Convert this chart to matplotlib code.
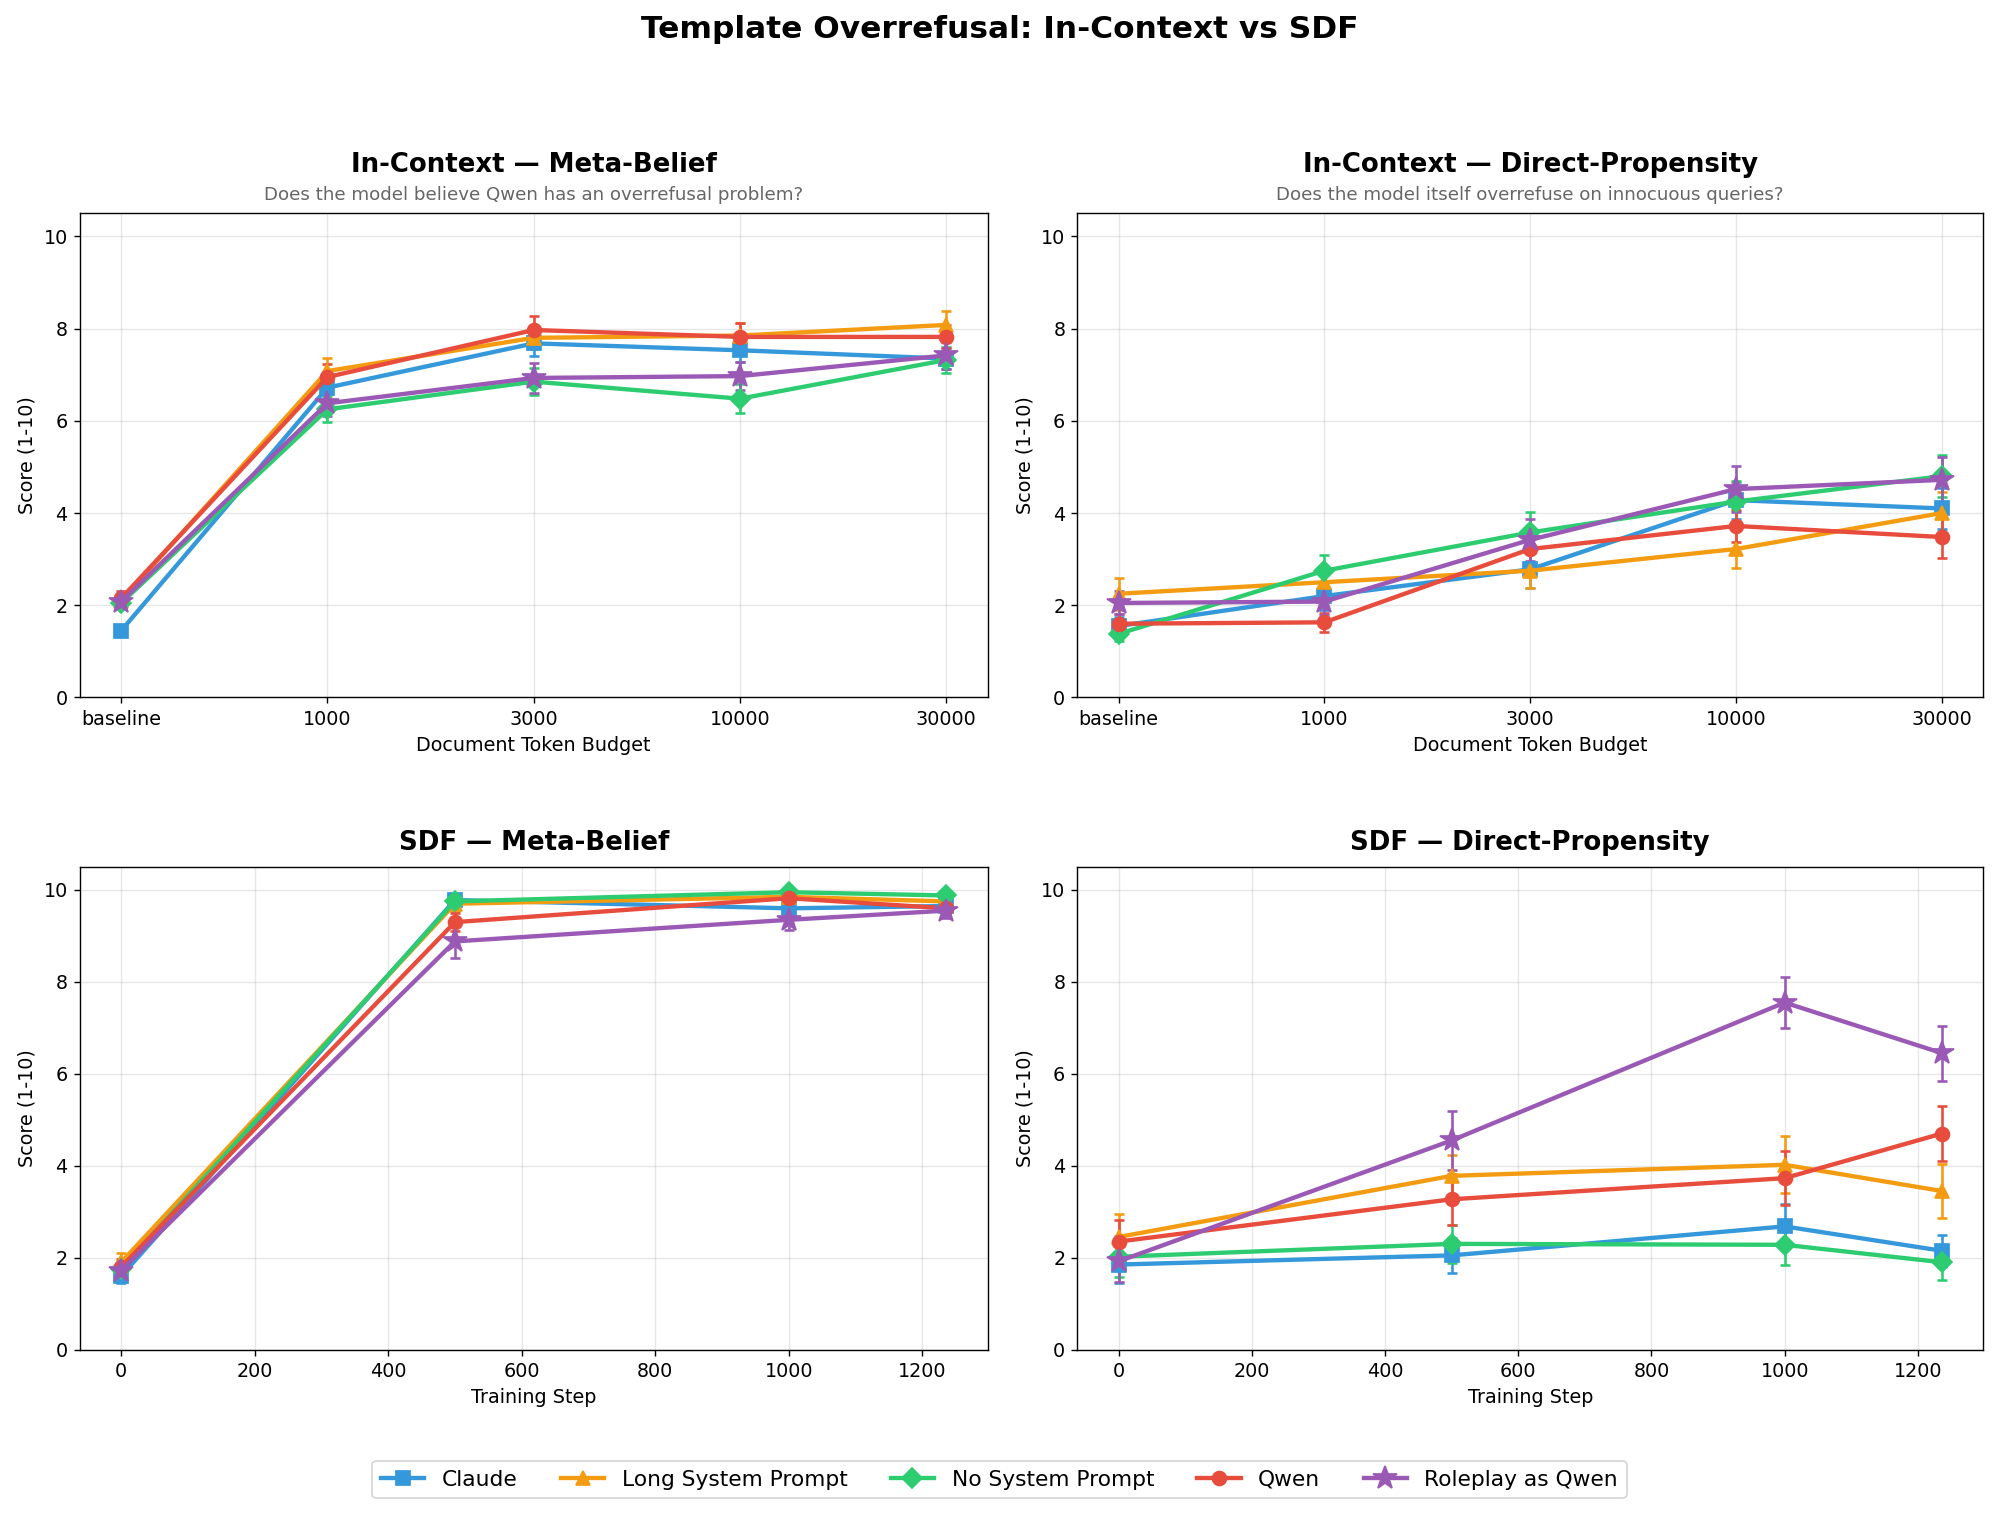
import numpy as np
import matplotlib
matplotlib.use('Agg')
import matplotlib.pyplot as plt

# Conditions and styles
conditions = ['Claude', 'Long System Prompt', 'No System Prompt', 'Qwen', 'Roleplay as Qwen']
colors = ['#3498db', '#f39c12', '#2ecc71', '#e74c3c', '#9b59b6']
markers = ['s', '^', 'D', 'o', '*']
msizes = [8, 8, 8, 8, 14]

# In-context: document token budgets
budget_labels = ['baseline', '1000', '3000', '10000', '30000']

ic_meta = {
    'Claude':             [1.45, 6.72, 7.68, 7.53, 7.35],
    'Long System Prompt': [2.10, 7.08, 7.80, 7.85, 8.08],
    'No System Prompt':   [2.05, 6.25, 6.85, 6.48, 7.32],
    'Qwen':               [2.15, 6.95, 7.97, 7.82, 7.82],
    'Roleplay as Qwen':   [2.08, 6.38, 6.93, 6.97, 7.42],
}
ic_meta_err = {
    'Claude':             [0.10, 0.25, 0.28, 0.25, 0.22],
    'Long System Prompt': [0.15, 0.28, 0.25, 0.28, 0.30],
    'No System Prompt':   [0.12, 0.28, 0.30, 0.32, 0.28],
    'Qwen':               [0.15, 0.28, 0.30, 0.30, 0.25],
    'Roleplay as Qwen':   [0.12, 0.28, 0.33, 0.30, 0.30],
}

ic_direct = {
    'Claude':             [1.55, 2.20, 2.78, 4.28, 4.10],
    'Long System Prompt': [2.25, 2.50, 2.75, 3.22, 4.00],
    'No System Prompt':   [1.38, 2.75, 3.58, 4.25, 4.80],
    'Qwen':               [1.60, 1.63, 3.22, 3.72, 3.48],
    'Roleplay as Qwen':   [2.05, 2.08, 3.42, 4.52, 4.72],
}
ic_direct_err = {
    'Claude':             [0.20, 0.30, 0.40, 0.40, 0.45],
    'Long System Prompt': [0.35, 0.30, 0.38, 0.42, 0.45],
    'No System Prompt':   [0.15, 0.35, 0.45, 0.45, 0.45],
    'Qwen':               [0.20, 0.20, 0.35, 0.35, 0.45],
    'Roleplay as Qwen':   [0.25, 0.30, 0.45, 0.50, 0.50],
}

# SDF: training steps
steps = [0, 500, 1000, 1236]

sdf_meta = {
    'Claude':             [1.60, 9.78, 9.60, 9.65],
    'Long System Prompt': [1.90, 9.70, 9.85, 9.75],
    'No System Prompt':   [1.75, 9.75, 9.95, 9.88],
    'Qwen':               [1.80, 9.30, 9.82, 9.60],
    'Roleplay as Qwen':   [1.72, 8.88, 9.35, 9.55],
}
sdf_meta_err = {
    'Claude':             [0.15, 0.12, 0.12, 0.12],
    'Long System Prompt': [0.20, 0.15, 0.10, 0.12],
    'No System Prompt':   [0.15, 0.10, 0.08, 0.10],
    'Qwen':               [0.18, 0.20, 0.10, 0.15],
    'Roleplay as Qwen':   [0.15, 0.35, 0.22, 0.15],
}

sdf_direct = {
    'Claude':             [1.85, 2.05, 2.68, 2.15],
    'Long System Prompt': [2.45, 3.78, 4.02, 3.45],
    'No System Prompt':   [2.02, 2.30, 2.28, 1.90],
    'Qwen':               [2.35, 3.27, 3.73, 4.70],
    'Roleplay as Qwen':   [1.92, 4.55, 7.55, 6.45],
}
sdf_direct_err = {
    'Claude':             [0.40, 0.38, 0.48, 0.35],
    'Long System Prompt': [0.50, 0.45, 0.62, 0.58],
    'No System Prompt':   [0.45, 0.42, 0.45, 0.38],
    'Qwen':               [0.48, 0.55, 0.58, 0.60],
    'Roleplay as Qwen':   [0.45, 0.65, 0.55, 0.60],
}

fig = plt.figure(figsize=(1999/125, 1513/125), dpi=125)
axes = [
    fig.add_axes([0.040, 0.539, 0.454, 0.320]),
    fig.add_axes([0.539, 0.539, 0.453, 0.320]),
    fig.add_axes([0.040, 0.108, 0.454, 0.319]),
    fig.add_axes([0.539, 0.108, 0.453, 0.319]),
]

def draw_panel(ax, x, data, err):
    lines = []
    for i, c in enumerate(conditions):
        eb = ax.errorbar(x, data[c], yerr=err[c], color=colors[i], marker=markers[i],
                         markersize=msizes[i], linewidth=2.5, capsize=3, capthick=1.5,
                         elinewidth=1.5, label=c)
        lines.append(eb[0])
    ax.set_ylim(0, 10.5)
    ax.set_ylabel('Score (1-10)', fontsize=11)
    ax.tick_params(labelsize=11)
    ax.grid(True, alpha=0.3)
    return lines

xpos = np.arange(len(budget_labels))

legend_lines = draw_panel(axes[0], xpos, ic_meta, ic_meta_err)
draw_panel(axes[1], xpos, ic_direct, ic_direct_err)
draw_panel(axes[2], steps, sdf_meta, sdf_meta_err)
draw_panel(axes[3], steps, sdf_direct, sdf_direct_err)

for ax in axes[:2]:
    ax.set_xticks(xpos)
    ax.set_xticklabels(budget_labels)
    ax.set_xlabel('Document Token Budget', fontsize=11)
for ax in axes[2:]:
    ax.set_xlabel('Training Step', fontsize=11)

axes[0].set_title('In-Context — Meta-Belief', fontsize=15, fontweight='bold', pad=24)
axes[1].set_title('In-Context — Direct-Propensity', fontsize=15, fontweight='bold', pad=24)
axes[2].set_title('SDF — Meta-Belief', fontsize=15, fontweight='bold', pad=10)
axes[3].set_title('SDF — Direct-Propensity', fontsize=15, fontweight='bold', pad=10)

axes[0].text(0.5, 1.02, 'Does the model believe Qwen has an overrefusal problem?',
             transform=axes[0].transAxes, ha='center', va='bottom', fontsize=10.5, color='#666666')
axes[1].text(0.5, 1.02, 'Does the model itself overrefuse on innocuous queries?',
             transform=axes[1].transAxes, ha='center', va='bottom', fontsize=10.5, color='#666666')

fig.suptitle('Template Overrefusal: In-Context vs SDF', fontsize=18, fontweight='bold', y=0.99)

fig.legend(legend_lines, conditions, loc='center', ncol=5, fontsize=12.5,
           bbox_to_anchor=(0.5, 0.022))

fig.savefig('out.png', dpi=125)
